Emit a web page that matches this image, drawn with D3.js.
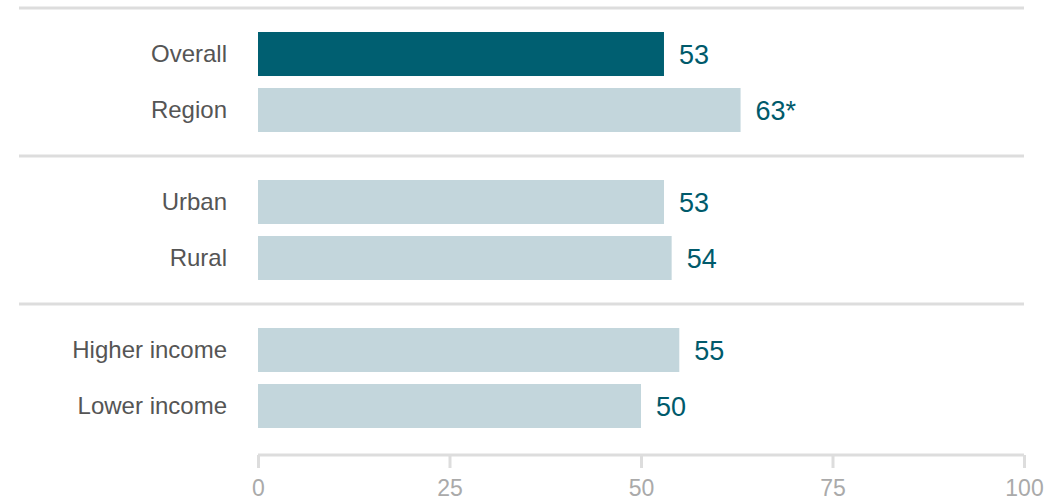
<!DOCTYPE html>
<html>
<head>
<meta charset="utf-8">
<script src="https://d3js.org/d3.v7.min.js"></script>
<style>
  body { margin: 0; background: #fff; }
  .cat { font: 24px "Liberation Sans", Arial, sans-serif; fill: #555; text-anchor: end; }
  .val { font: 27px "Liberation Sans", Arial, sans-serif; fill: #005a6b; }
  .tick text { font: 23px "Liberation Sans", Arial, sans-serif; fill: #aaa; }
</style>
</head>
<body>
<div id="chart"></div>
<script>
  // dados
  var grupos = ["total", "local", "renda"];
  var categorias = ["Overall", "Region", "Urban", "Rural", "Higher income", "Lower income"];
  var grupoDe = ["total", "total", "local", "local", "renda", "renda"];
  var valores = [53, 63, 53, 54, 55, 50];
  var rotulos = ["53", "63*", "53", "54", "55", "50"];
  var destaque = ["Overall"];
  var ticks = [0, 25, 50, 75, 100];

  var dados = categorias.map((c, i) => ({cat: c, grupo: grupoDe[i], valor: valores[i], rotulo: rotulos[i]}));

  var largura = 1060, altura = 500;
  var svg = d3.select("#chart").append("svg")
      .attr("width", largura).attr("height", altura);

  var x = d3.scaleLinear().domain([0, 100]).range([258, 1024]);

  var yGrupo = d3.scaleBand().domain(grupos).range([8, 452]);

  var yLinha = {};
  grupos.forEach(g => {
    var topo = yGrupo(g);
    yLinha[g] = d3.scaleBand()
      .domain(dados.filter(d => d.grupo == g).map(d => d.cat))
      .range([topo + 24, topo + 124])
      .paddingInner(0.214);
  });

  // linhas separadoras
  svg.selectAll("line.sep")
    .data(grupos)
    .enter().append("line")
      .attr("class", "sep")
      .attr("x1", 19).attr("x2", 1024)
      .attr("y1", g => yGrupo(g)).attr("y2", g => yGrupo(g))
      .attr("stroke", "#ddd").attr("stroke-width", 3);

  svg.selectAll("rect")
    .data(dados)
    .enter().append("rect")
      .attr("x", x(0))
      .attr("y", d => yLinha[d.grupo](d.cat))
      .attr("width", d => x(d.valor) - x(0))
      .attr("height", d => yLinha[d.grupo].bandwidth())
      .attr("fill", d => destaque.includes(d.cat) ? "#005f71" : "#c3d6dc");

  svg.selectAll("text.cat")
    .data(dados)
    .enter().append("text")
      .attr("class", "cat")
      .attr("x", 227)
      .attr("y", d => yLinha[d.grupo](d.cat) + yLinha[d.grupo].bandwidth() / 2)
      .attr("dy", "0.35em")
      .text(d => d.cat);

  svg.selectAll("text.val")
    .data(dados)
    .enter().append("text")
      .attr("class", "val")
      .attr("x", d => x(d.valor) + 15)
      .attr("y", d => yLinha[d.grupo](d.cat) + yLinha[d.grupo].bandwidth() / 2)
      .attr("dy", "0.36em")
      .text(d => d.rotulo);

  var eixo = svg.append("g")
    .attr("transform", "translate(0,455)")
    .call(d3.axisBottom(x).tickValues(ticks).tickSize(13).tickPadding(12));
  eixo.select(".domain").attr("stroke", "#ddd").attr("stroke-width", 3)
    .attr("d", "M" + x(0) + ",0H" + x(100));
  eixo.selectAll(".tick line").attr("stroke", "#ddd").attr("stroke-width", 3);
</script>
</body>
</html>
